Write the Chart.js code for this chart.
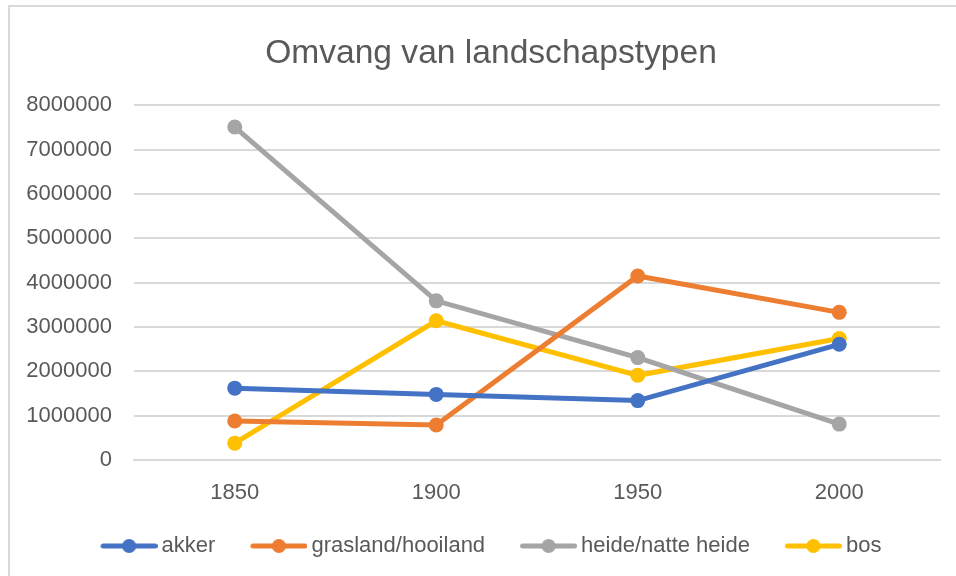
<!DOCTYPE html>
<html>
<head>
<meta charset="utf-8">
<script src="https://cdn.jsdelivr.net/npm/chart.js@4/dist/chart.umd.min.js"></script>
<style>
  html, body { margin: 0; padding: 0; background: #fff; }
  #wrap { position: relative; width: 956px; height: 576px; overflow: hidden; }
  canvas { display: block; }
</style>
</head>
<body>
<div id="wrap"><canvas id="c" width="956" height="576"></canvas></div>
<script>
const years = ['1850', '1900', '1950', '2000'];
const akker = [1620000, 1480000, 1340000, 2610000];
const grasland = [880000, 790000, 4150000, 3330000];
const heide = [7510000, 3590000, 2310000, 810000];
const bos = [380000, 3140000, 1910000, 2740000];
const seriesNames = ['akker', 'grasland/hooiland', 'heide/natte heide', 'bos'];
const seriesColors = ['#4472C4', '#ED7D31', '#A5A5A5', '#FFC000'];
const yTicks = [0, 1000000, 2000000, 3000000, 4000000, 5000000, 6000000, 7000000, 8000000];

const FONT = "'Liberation Sans', Arial, sans-serif";
const TXT = '#595959';

// let axis labels draw outside their own boxes
if (Chart.Scale && Chart.Scale.prototype) {
  Chart.Scale.prototype._computeLabelArea = function () { return undefined; };
}

function legendImage(color) {
  const cv = document.createElement('canvas');
  cv.width = 64; cv.height = 16;
  const g = cv.getContext('2d');
  g.strokeStyle = color; g.lineWidth = 5; g.lineCap = 'round';
  g.beginPath(); g.moveTo(9.5, 8); g.lineTo(61.5, 8); g.stroke();
  g.fillStyle = color;
  g.beginPath(); g.arc(35.5, 8, 7, 0, Math.PI * 2); g.fill();
  return cv;
}
const legendImgs = seriesColors.map(legendImage);

const borderPlugin = {
  id: 'frame',
  beforeDraw(chart) {
    const ctx = chart.ctx;
    ctx.save();
    ctx.fillStyle = '#fff';
    ctx.fillRect(0, 0, chart.width, chart.height);
    ctx.strokeStyle = '#d9d9d9';
    ctx.lineWidth = 2;
    ctx.beginPath();
    ctx.moveTo(9, chart.height + 5);
    ctx.lineTo(9, 6);
    ctx.lineTo(chart.width + 5, 6);
    ctx.stroke();
    ctx.restore();
  }
};

const allData = [akker, grasland, heide, bos];
new Chart(document.getElementById('c'), {
  type: 'line',
  data: {
    labels: years,
    datasets: allData.map((d, i) => ({
      label: seriesNames[i],
      data: d,
      borderColor: seriesColors[i],
      backgroundColor: seriesColors[i],
      borderWidth: 5,
      pointRadius: 7.5,
      pointHoverRadius: 7.5,
      pointBorderWidth: 0,
      pointBackgroundColor: seriesColors[i],
      tension: 0,
      fill: false
    }))
  },
  options: {
    responsive: false,
    animation: false,
    devicePixelRatio: 1,
    layout: { padding: { left: 26, right: 0, top: 0, bottom: 9 } },
    plugins: {
      tooltip: { enabled: false },
      title: {
        display: true,
        text: 'Omvang van landschapstypen',
        color: TXT,
        font: { family: FONT, size: 33.6, weight: 'normal' },
        padding: { top: 34, bottom: 31 }
      },
      legend: {
        position: 'bottom',
        labels: {
          usePointStyle: true,
          pointStyleWidth: 50,
          boxHeight: 16,
          padding: 35,
          color: TXT,
          font: { family: FONT, size: 22 },
          generateLabels(chart) {
            return chart.data.datasets.map((ds, i) => ({
              text: ds.label,
              fillStyle: ds.borderColor,
              strokeStyle: ds.borderColor,
              lineWidth: 0,
              pointStyle: legendImgs[i],
              hidden: false,
              datasetIndex: i,
              fontColor: TXT
            }));
          }
        }
      }
    },
    scales: {
      x: {
        offset: true,
        grid: { display: false, drawTicks: false },
        border: { display: true, color: '#d9d9d9', width: 2 },
        ticks: { color: TXT, font: { family: FONT, size: 22 }, padding: 20 },
        afterFit(s) { s.height = 40; }
      },
      y: {
        min: 0,
        max: 8000000,
        afterBuildTicks(scale) { scale.ticks = yTicks.map(v => ({ value: v })); },
        afterFit(s) { s.width = 108; },
        grid: { color: '#d9d9d9', lineWidth: 2, drawTicks: false },
        border: { display: false },
        ticks: {
          color: TXT,
          font: { family: FONT, size: 22 },
          padding: 22,
          callback: v => String(v)
        }
      },
      spacer: {
        type: 'linear',
        position: 'right',
        display: true,
        grid: { display: false, drawTicks: false },
        border: { display: false },
        ticks: { display: false },
        afterFit(s) { s.width = 16; }
      }
    }
  },
  plugins: [borderPlugin]
});
</script>
</body>
</html>
